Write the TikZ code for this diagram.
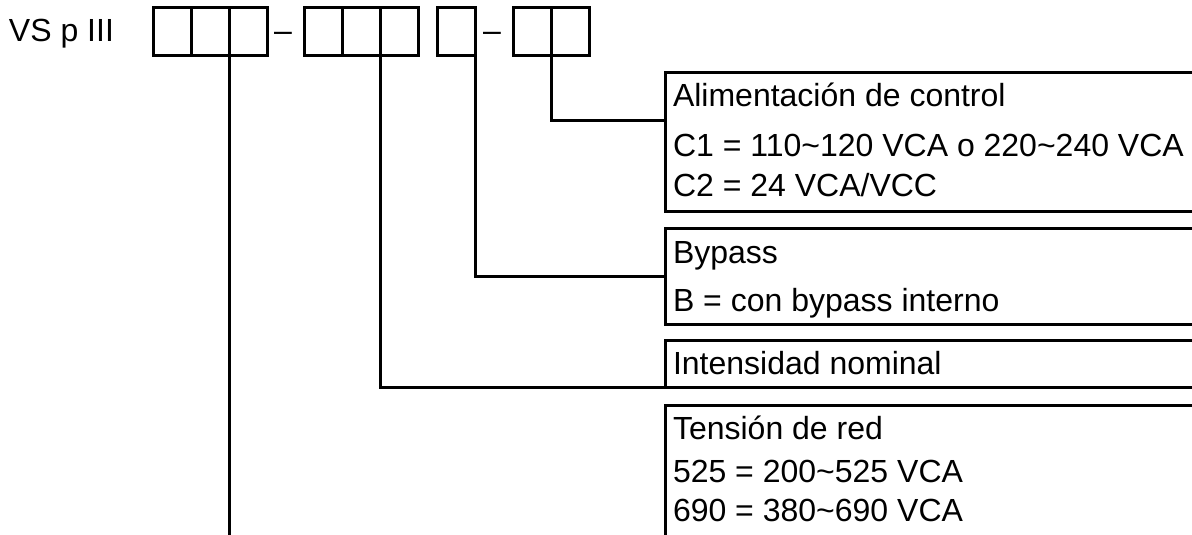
\documentclass[tikz,border=0pt]{standalone}
\usepackage{fontspec}
\setmainfont{Liberation Sans}
\begin{document}
\begin{tikzpicture}[x=1pt,y=-1pt,line width=3pt,
  cell/.style={draw, minimum width=38pt, minimum height=48pt, inner sep=0pt, outer sep=0pt},
  panel/.style={draw, anchor=north west, inner sep=0pt, outer sep=0pt, minimum width=560pt},
  txt/.style={anchor=base west, inner sep=0pt, outer sep=0pt, font=\fontsize{32}{38}\selectfont},
  conn/.style={draw, line width=3pt}]
\clip (0,0) rectangle (1192,535);
\fill[white] (0,0) rectangle (1192,535);
% title
\node[txt] (title) at (9,42) {VS p III};
% code cells
\node[cell] (a1) at (172,32) {};
\node[cell] (a2) at (210,32) {};
\node[cell] (a3) at (248,32) {};
\node[txt] (h1) at (274,42) {–};
\node[cell] (b1) at (323,32) {};
\node[cell] (b2) at (361,32) {};
\node[cell] (b3) at (399,32) {};
\node[cell] (c1) at (456,32) {};
\node[txt] (h2) at (483,42) {–};
\node[cell] (d1) at (532,32) {};
\node[cell] (d2) at (570,32) {};
% panels
\node[panel, minimum height=138pt] (p1) at (665,73) {};
\node[panel, minimum height=96pt] (p2) at (665,228) {};
\node[panel, minimum height=47pt] (p3) at (665,340) {};
\node[panel, minimum height=200pt] (p4) at (665,405) {};
% panel texts
\node[txt] (t11) at (673,106.5) {Alimentación de control};
\node[txt] (t12) at (673,156.5) {C1 = 110\textasciitilde120 VCA o 220\textasciitilde240 VCA};
\node[txt] (t13) at (673,196) {C2 = 24 VCA/VCC};
\node[txt] (t21) at (673,263.5) {Bypass};
\node[txt] (t22) at (673,311.5) {B = con bypass interno};
\node[txt] (t31) at (673,374.5) {Intensidad nominal};
\node[txt] (t41) at (673,439) {Tensión de red};
\node[txt] (t42) at (673,482.5) {525 = 200\textasciitilde525 VCA};
\node[txt] (t43) at (673,521.5) {690 = 380\textasciitilde690 VCA};
% connector ends
\coordinate (k1) at (665,120);
\coordinate (k2) at (665,276);
\coordinate (k3) at (665,387);
\coordinate (e1) at (229,545);
% connectors
\path[conn] (d1.south east) |- (k1);
\path[conn] (c1.south east) |- (k2);
\path[conn] (b2.south east) |- (k3);
\path[conn] (a2.south east) -- (e1);
\end{tikzpicture}
\end{document}
